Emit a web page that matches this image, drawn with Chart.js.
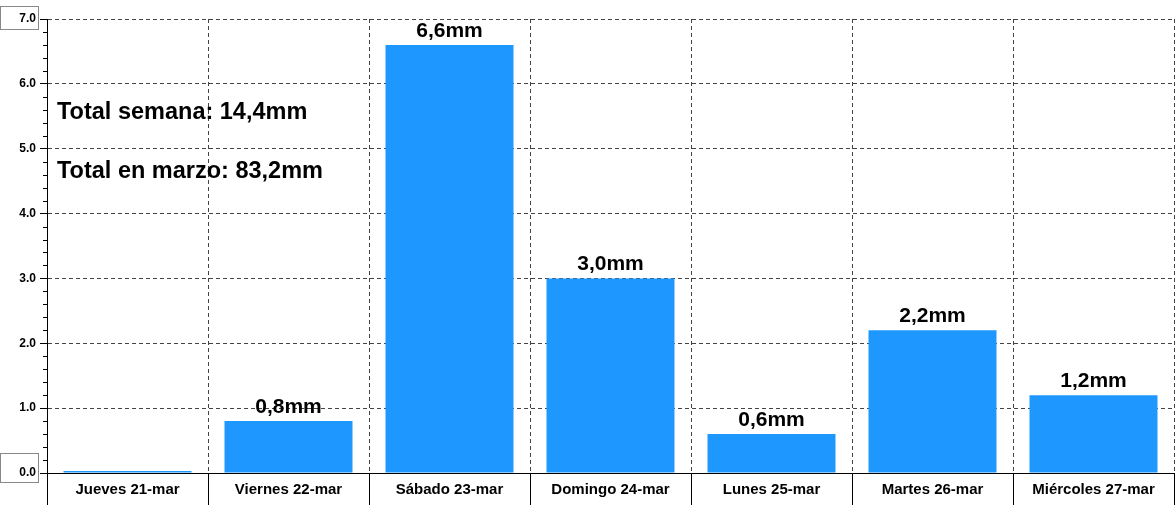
<!DOCTYPE html>
<html>
<head>
<meta charset="utf-8">
<script src="https://cdn.jsdelivr.net/npm/chart.js@4"></script>
<style>
  html, body { margin: 0; padding: 0; background: #fff; }
  .wrap { width: 1176px; height: 505px; position: relative; }
</style>
</head>
<body>
<div class="wrap"><canvas class="rain-chart"></canvas></div>
<script>
// datos
const days = ["Jueves 21-mar", "Viernes 22-mar", "Sábado 23-mar", "Domingo 24-mar", "Lunes 25-mar", "Martes 26-mar", "Miércoles 27-mar"];
const rain = [0, 0.8, 6.6, 3.0, 0.6, 2.2, 1.2];
const yTicks = [0, 1, 2, 3, 4, 5, 6, 7];
const monthTotal = 83.2;

const FONT = "'Liberation Sans', Arial, sans-serif";
const fmt = v => v.toFixed(1).replace(".", ",");
const weekTotal = rain.reduce((a, b) => a + b, 0);

// etiquetas, subdivisiones y totales
const extras = {
  id: "extras",
  afterDraw(chart) {
    const ctx = chart.ctx;
    const y = chart.scales.y;
    const area = chart.chartArea;
    ctx.save();

    // minor ticks
    ctx.strokeStyle = "#000";
    ctx.lineWidth = 1;
    for (let i = 0; i <= 35; i++) {
      if (i % 5 === 0) continue;
      const py = Math.round(y.getPixelForValue(i * 0.2)) + 0.5;
      ctx.beginPath();
      ctx.moveTo(area.left - 4, py);
      ctx.lineTo(area.left, py);
      ctx.stroke();
    }

    // boxes around first and last labels
    ctx.strokeStyle = "#888";
    const top = y.getPixelForValue(yTicks[yTicks.length - 1]);
    const bot = y.getPixelForValue(yTicks[0]);
    ctx.strokeRect(0.5, top - 12.5, 38, 23);
    ctx.strokeRect(0.5, bot - 19.5, 38, 29);

    // bar values
    ctx.fillStyle = "#000";
    ctx.font = "bold 21px " + FONT;
    ctx.textAlign = "center";
    ctx.textBaseline = "alphabetic";
    chart.getDatasetMeta(0).data.forEach((bar, i) => {
      if (!rain[i]) return;
      ctx.fillText(fmt(rain[i]) + "mm", bar.x, bar.y - 8);
    });

    // totals
    ctx.font = "bold 23.5px " + FONT;
    ctx.textAlign = "left";
    ctx.fillText("Total semana: " + fmt(weekTotal) + "mm", area.left + 10, y.getPixelForValue(5.5) + 3);
    ctx.fillText("Total en marzo: " + fmt(monthTotal) + "mm", area.left + 10, y.getPixelForValue(4.6) + 3);
    ctx.restore();
  }
};

var ctx1 = document.querySelector(".rain-chart");
new Chart(ctx1, {
  type: "bar",
  plugins: [extras],
  options: {
    maintainAspectRatio: false,
    responsive: true,
    animation: false,
    layout: { padding: { top: 19, right: 2, left: 0, bottom: 0 } },
    plugins: {
      legend: { display: false },
      tooltip: { enabled: false },
    },
    scales: {
      x: {
        offset: true,
        afterFit: s => { s.height = 32; },
        grid: {
          offset: true,
          color: "#444",
          tickColor: "#000",
          tickLength: 32,
        },
        border: { display: true, color: "#000", width: 1, dash: [4, 3] },
        ticks: {
          color: "#000",
          padding: -24,
          maxRotation: 0,
          font: { family: FONT, size: 15, weight: "bold" },
        },
      },
      y: {
        min: 0,
        max: 7,
        afterFit: s => { s.width = 47; },
        afterBuildTicks: s => { s.ticks = yTicks.map(v => ({ value: v })); },
        grid: {
          color: "#444",
          tickColor: "#000",
          tickLength: 7,
        },
        border: { display: true, color: "#000", width: 1, dash: [4, 3] },
        ticks: {
          color: "#000",
          padding: 4,
          callback: v => Number(v).toFixed(1),
          font: { family: FONT, size: 12, weight: "bold" },
        },
      },
    },
  },
  data: {
    labels: days,
    datasets: [
      {
        backgroundColor: "#1e98ff",
        borderWidth: 0,
        barPercentage: 0.795,
        categoryPercentage: 1,
        minBarLength: 2,
        data: rain,
      },
    ],
  },
});
</script>
</body>
</html>
